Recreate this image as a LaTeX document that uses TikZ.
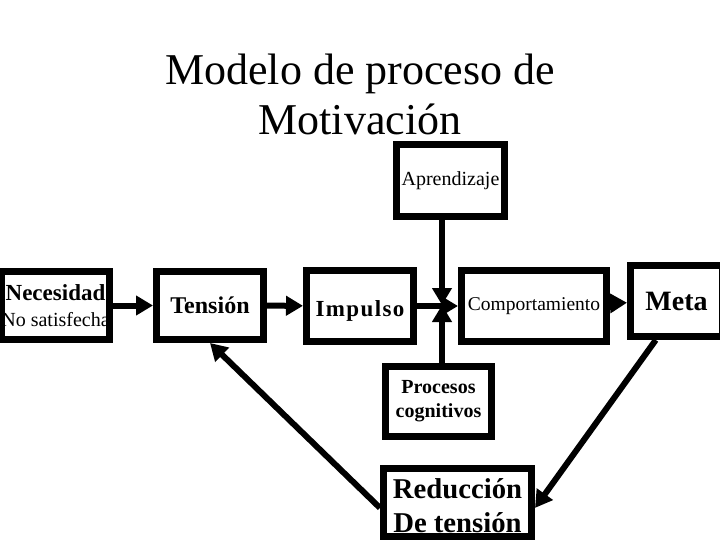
\documentclass[tikz,border=0pt]{standalone}
\usepackage{fontspec}
\setmainfont{Liberation Serif}
\usetikzlibrary{arrows.meta,positioning}

\begin{document}
\begin{tikzpicture}
    [
      x=1pt,y=-1pt,
      box/.style={draw,line width=7pt,rectangle,inner sep=0pt,align=center},
      post/.style={-{Triangle[length=17pt,width=19pt]},line width=6pt},
    ]

    \clip (0,0) rectangle (720,540);

    \node (title) [align=center,font=\fontsize{44}{50}\selectfont] at (360,94)
      {Modelo de proceso de\\Motivación};

    \node (necesidad) [box,minimum width=104pt,minimum height=68pt,font=\fontsize{20}{26}\selectfont]
      at (55.5,305.5)
      {{\fontsize{23}{26}\selectfont\bfseries Necesidad}\\No satisfecha};
    \node (tension) [box,minimum width=107pt,minimum height=68pt,font=\fontsize{24}{27}\selectfont\bfseries]
      at (210,305.5) {Tensión};
    \node (impulso) [box,minimum width=107pt,minimum height=71pt,font=\fontsize{23}{26}\selectfont\bfseries]
      at (360,306) {\raisebox{-5pt}[\height][\depth]{\addfontfeatures{LetterSpace=6}Impulso}};
    \node (comport) [box,minimum width=145pt,minimum height=71pt,font=\fontsize{19.5}{23}\selectfont]
      at (534,306) {Comportamiento};
    \node (meta) [box,minimum width=92pt,minimum height=71pt,font=\fontsize{28}{31}\selectfont\bfseries]
      at (676.5,301) {Meta};
    \node (aprend) [box,minimum width=108pt,minimum height=72pt,font=\fontsize{20}{24}\selectfont]
      at (450.5,180.5) {Aprendizaje};
    \node (procesos) [box,minimum width=106pt,minimum height=70pt,font=\fontsize{20}{24}\selectfont\bfseries]
      at (438.5,401.5) {Procesos\\cognitivos};
    \node (reduccion) [box,minimum width=148pt,minimum height=68pt,font=\fontsize{28.7}{34}\selectfont\bfseries]
      at (457.5,502.5)
      {\raisebox{-6pt}[\height][\depth]{\begin{tabular}{@{}c@{}}Reducción\\De tensión\end{tabular}}};

    \coordinate (join) at (442,305);

    \path
    (necesidad) edge [post] (tension)
    (tension) edge [post] (impulso)
    (impulso) edge [post] (comport)
    (comport) edge [post] (meta)

    (aprend.south -| join) edge [post] (join)
    (procesos.north -| join) edge [post] (join)

    (meta.242) edge [post] (reduccion.356)
    (reduccion.184) edge [post] (tension.south)
    ;

\end{tikzpicture}
\end{document}
